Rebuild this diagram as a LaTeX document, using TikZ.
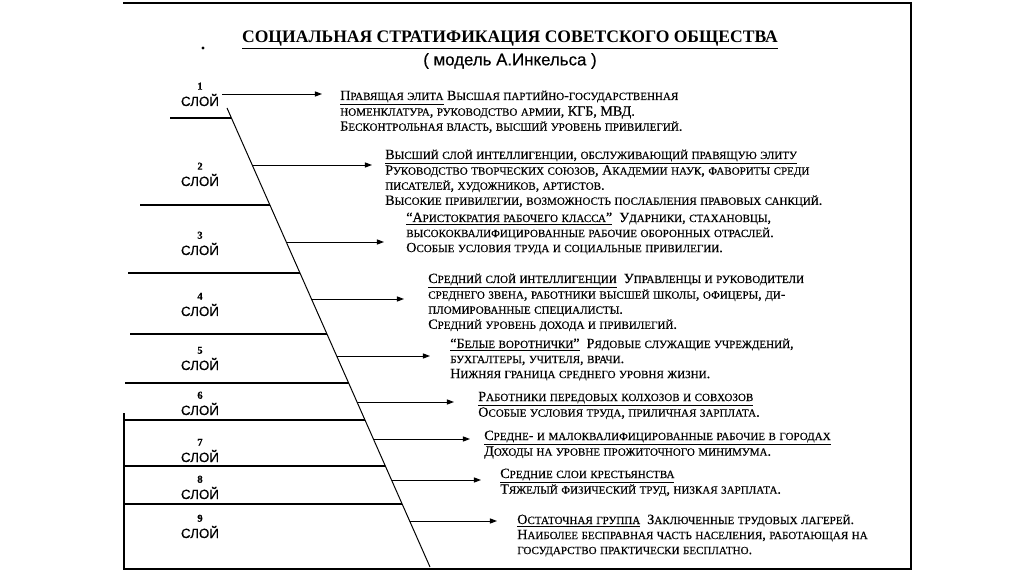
\documentclass[tikz,border=0pt]{standalone}
\usepackage{fontspec}
\setmainfont{Liberation Serif}
\newfontfamily\bodyf[FakeBold=0.4]{Liberation Serif}
\newfontfamily\sansf[FakeBold=0.3]{Liberation Sans}
\usetikzlibrary{arrows.meta}
\newcommand\scsmallfont{\fontsize{7.85}{10.7}\selectfont}
\ExplSyntaxOn
\seq_new:N \l__fsc_seq
\bool_new:N \l__fsc_first_bool
\cs_new_protected:Npn \__fsc_char:N #1
  {
    \bool_lazy_and:nnTF
      { ! \int_compare_p:nNn { \uccode `#1 } = { 0 } }
      { ! \int_compare_p:nNn { \uccode `#1 } = { `#1 } }
      { { \scsmallfont \char \uccode `#1 \scan_stop: } }
      { #1 }
  }
\NewDocumentCommand \fsc { m }
  {
    \seq_set_split:Nnn \l__fsc_seq { ~ } {#1}
    \bool_set_true:N \l__fsc_first_bool
    \seq_map_inline:Nn \l__fsc_seq
      {
        \bool_if:NF \l__fsc_first_bool { \c_space_tl }
        \bool_set_false:N \l__fsc_first_bool
        \tl_map_function:nN {##1} \__fsc_char:N
      }
  }
\ExplSyntaxOff
\newcommand\ul[1]{\underline{\fsc{#1}}}
\newenvironment{lns}{\begin{tabular}[t]{@{}l@{}}}{\end{tabular}}
\tikzset{
  frame/.style={line width=1.3pt},
  divider/.style={line width=0.9pt},
  slant/.style={line width=0.7pt},
  arr/.style={line width=0.7pt,-{Triangle[length=5pt,width=3.6pt]}},
  txt/.style={anchor=base west,inner sep=0pt,font=\bodyf\fontsize{10}{10.7}\selectfont},
  lbl/.style={anchor=base,inner sep=0pt,font=\sansf\fontsize{9.5}{10}\selectfont},
}
\newcommand\numf{\bodyf\bfseries\fontsize{7.5}{8}\selectfont}
\newcommand\lab[1]{\begin{tabular}[b]{@{}c@{}}{\numf #1}\\СЛОЙ\end{tabular}}
\begin{document}
\begin{tikzpicture}[x=0.025cm,y=-0.025cm]
\useasboundingbox (0,0) rectangle (1024,576);
\fill[white] (0,0) rectangle (1024,576);
% frame
\draw[frame] (123,3) -- (911,3) -- (911,569) -- (124,569) -- (124,413);
% title
\node[inner sep=0pt] (title) at (510,40) {\fontsize{12.5}{15}\selectfont\bfseries\underline{СОЦИАЛЬНАЯ СТРАТИФИКАЦИЯ СОВЕТСКОГО ОБЩЕСТВА}};
\node[inner sep=0pt] (subtitle) at (510,61) {\sansf\fontsize{12}{14}\selectfont ( модель А.Инкельса )};
\fill (203,48) circle (1.6);
% slanted line
\coordinate (sT) at (227,108);
\coordinate (sB) at (430,567);
\draw[slant] (sT) -- (sB);
% dividers
\coordinate (d1a) at (170,118); \coordinate (d1b) at (231,118);
\coordinate (d2a) at (140,205); \coordinate (d2b) at (270,205);
\coordinate (d3a) at (128,273); \coordinate (d3b) at (300,273);
\coordinate (d4a) at (130,334); \coordinate (d4b) at (327,334);
\coordinate (d5a) at (125,383); \coordinate (d5b) at (349,383);
\coordinate (d6a) at (124,420); \coordinate (d6b) at (365,420);
\coordinate (d7a) at (124,466); \coordinate (d7b) at (385,466);
\coordinate (d8a) at (124,504); \coordinate (d8b) at (402,504);
\foreach \i in {1,...,8} {\draw[divider] (d\i a) -- (d\i b);}
% labels
\node[lbl] (L1) at (200,106) {\lab{1}};
\node[lbl] (L2) at (200,186) {\lab{2}};
\node[lbl] (L3) at (200,255) {\lab{3}};
\node[lbl] (L4) at (200,316) {\lab{4}};
\node[lbl] (L5) at (200,370) {\lab{5}};
\node[lbl] (L6) at (200,415) {\lab{6}};
\node[lbl] (L7) at (200,462) {\lab{7}};
\node[lbl] (L8) at (200,499) {\lab{8}};
\node[lbl] (L9) at (200,538) {\lab{9}};
% texts
\node[txt] (t1) at (340,100) {\begin{lns}
\ul{Правящая элита} \fsc{Высшая партийно-государственная}\\
\fsc{номенклатура, руководство армии, КГБ, МВД.}\\
\fsc{Бесконтрольная власть, высший уровень привилегий.}
\end{lns}};
\node[txt] (t2) at (385,159) {\begin{lns}
\ul{Высший слой интеллигенции, обслуживающий правящую элиту}\\
\fsc{Руководство творческих союзов, Академии наук, фавориты среди}\\
\fsc{писателей, художников, артистов.}\\
\fsc{Высокие привилегии, возможность послабления правовых санкций.}
\end{lns}};
\node[txt] (t3) at (406,222) {\begin{lns}
\ul{“Аристократия рабочего класса”}\enspace\fsc{Ударники, стахановцы,}\\
\fsc{высококвалифицированные рабочие оборонных отраслей.}\\
\fsc{Особые условия труда и социальные привилегии.}
\end{lns}};
\node[txt] (t4) at (428,283) {\begin{lns}
\ul{Средний слой интеллигенции}\enspace\fsc{Управленцы и руководители}\\
\fsc{среднего звена, работники высшей школы, офицеры, ди-}\\
\fsc{пломированные специалисты.}\\
\fsc{Средний уровень дохода и привилегий.}
\end{lns}};
\node[txt] (t5) at (450,348) {\begin{lns}
\ul{“Белые воротнички”}\enspace\fsc{Рядовые служащие учреждений,}\\
\fsc{бухгалтеры, учителя, врачи.}\\
\fsc{Нижняя граница среднего уровня жизни.}
\end{lns}};
\node[txt] (t6) at (478,401) {\begin{lns}
\ul{Работники передовых колхозов и совхозов}\\
\fsc{Особые условия труда, приличная зарплата.}
\end{lns}};
\node[txt] (t7) at (484,440) {\begin{lns}
\ul{Средне- и малоквалифицированные рабочие в городах}\\
\fsc{Доходы на уровне прожиточного минимума.}
\end{lns}};
\node[txt] (t8) at (500,478) {\begin{lns}
\ul{Средние слои крестьянства}\\
\fsc{Тяжелый физический труд, низкая зарплата.}
\end{lns}};
\node[txt] (t9) at (517,524) {\begin{lns}
\ul{Остаточная группа}\enspace\fsc{Заключенные трудовых лагерей.}\\
\fsc{Наиболее бесправная часть населения, работающая на}\\
\fsc{государство практически бесплатно.}
\end{lns}};
% arrows
\coordinate (a1s) at (222,94);  \coordinate (a1e) at (322,94);
\coordinate (a2s) at (252,165); \coordinate (a2e) at (372,165);
\coordinate (a3s) at (286,242); \coordinate (a3e) at (384,242);
\coordinate (a4s) at (311,299); \coordinate (a4e) at (404,299);
\coordinate (a5s) at (337,356); \coordinate (a5e) at (430,356);
\coordinate (a6s) at (357,402); \coordinate (a6e) at (454,402);
\coordinate (a7s) at (373,439); \coordinate (a7e) at (470,439);
\coordinate (a8s) at (392,480); \coordinate (a8e) at (481,480);
\coordinate (a9s) at (410,521); \coordinate (a9e) at (497,521);
\foreach \i in {1,...,9} {\draw[arr] (a\i s) -- (a\i e);}
\end{tikzpicture}
\end{document}
